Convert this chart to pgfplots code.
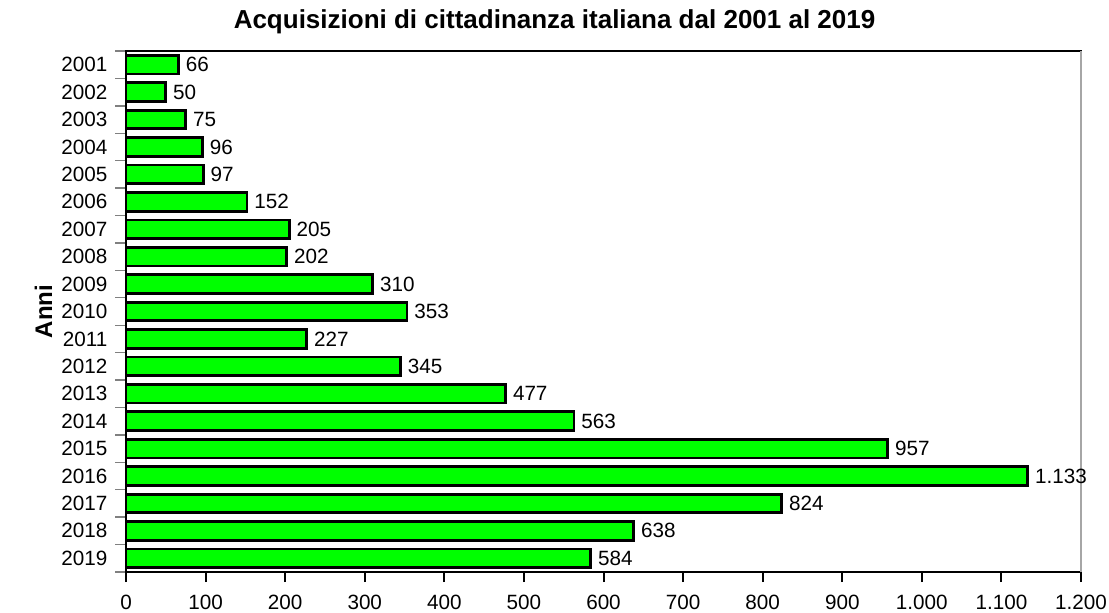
\documentclass[border=0pt]{standalone}
\usepackage{pgfplots}
\pgfplotsset{compat=1.18}
\usepackage{fontspec}
\setmainfont{Liberation Sans}

\pgfplotstableread{
idx anno valore
0  2001 66
1  2002 50
2  2003 75
3  2004 96
4  2005 97
5  2006 152
6  2007 205
7  2008 202
8  2009 310
9  2010 353
10 2011 227
11 2012 345
12 2013 477
13 2014 563
14 2015 957
15 2016 1133
16 2017 824
17 2018 638
18 2019 584
}\cittadinanze

\begin{document}
\begin{tikzpicture}
% page frame: 1109x613 px at 0.75pt per px, axis box at its lower left corner
\useasboundingbox (-94.5pt,-30.75pt) rectangle (737.25pt,429pt);
\begin{axis}[
    at={(0,0)}, anchor=south west,
    scale only axis,
    width=716.25pt, height=390.75pt,
    xbar,
    bar width=0.68,
    y dir=reverse,
    xmin=0, xmax=1200,
    ymin=-0.5, ymax=18.5,
    xtick={0,100,...,1200},
    ytick={0,...,18},
    yticklabels={2001,2002,2003,2004,2005,2006,2007,2008,2009,2010,2011,2012,2013,2014,2015,2016,2017,2018,2019},
    minor ytick={-0.5,0.5,...,18.5},
    xtick pos=bottom, ytick pos=left,
    scaled x ticks=false,
    tick align=outside,
    major tick length=7.5pt,
    minor tick length=8pt,
    major x tick style={black, line width=1.5pt},
    major y tick style={draw=none},
    minor y tick style={gray, line width=1pt},
    axis line style={line width=1.5pt},
    ticklabel style={font=\fontsize{15.5}{17}\selectfont},
    yticklabel style={xshift=-3pt},
    xticklabel style={yshift=-6pt},
    /pgf/number format/.cd, 1000 sep={.}, assume math mode=true,
    /pgfplots/.cd,
    ylabel={\bfseries Anni},
    ylabel style={font=\fontsize{18}{20}\selectfont},
    ylabel shift=0pt,
    nodes near coords,
    nodes near coords style={anchor=west, font=\fontsize{15.5}{17}\selectfont, inner sep=3pt, xshift=1.5pt, black},
    clip=false,
]
\addplot[draw=black, line width=2.1pt, fill={rgb,255:red,0;green,255;blue,0}]
    table[x=valore, y=idx] {\cittadinanze};
\draw[gray!70, line width=1.5pt] (rel axis cs:1,0) -- (rel axis cs:1,1);
\end{axis}
\node[font=\fontsize{19.5}{22}\selectfont\bfseries] at (321.4pt,413pt)
    {Acquisizioni di cittadinanza italiana dal 2001 al 2019};
\end{tikzpicture}
\end{document}
